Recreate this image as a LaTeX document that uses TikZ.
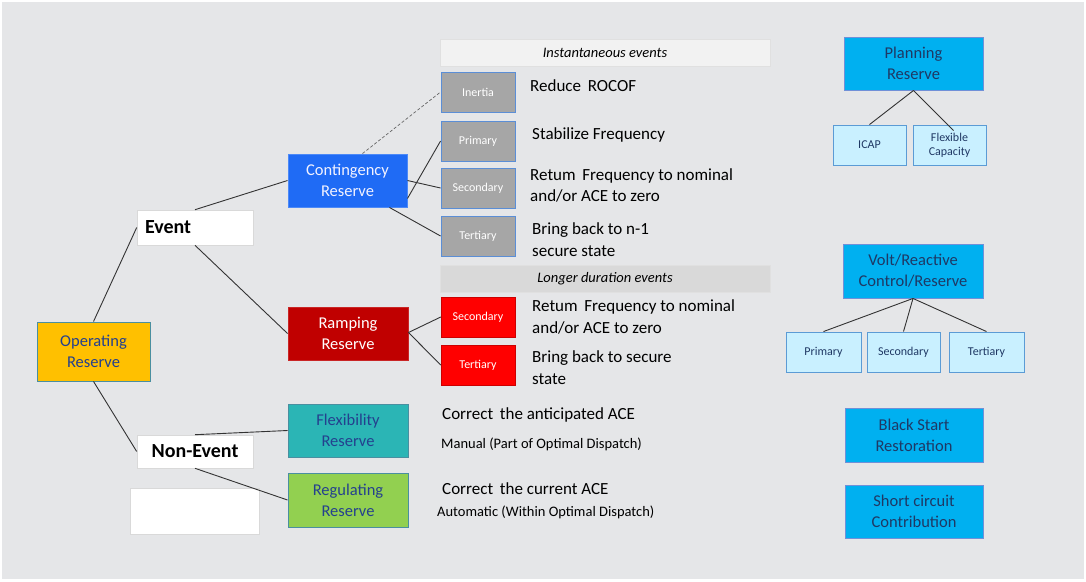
\documentclass[tikz,border=0pt]{standalone}
\usepackage{fontspec}
\setmainfont{Carlito}
\definecolor{bgc}{HTML}{E5E6E8}
\definecolor{contc}{HTML}{1F6BF5}
\definecolor{rampc}{HTML}{C00000}
\definecolor{flexc}{HTML}{2BB5B5}
\definecolor{regc}{HTML}{92D050}
\definecolor{operc}{HTML}{FFC000}
\definecolor{operb}{HTML}{4A8FA0}
\definecolor{greyc}{HTML}{A6A6A6}
\definecolor{bluebd}{HTML}{5B8ED6}
\definecolor{redc}{HTML}{FF0000}
\definecolor{skyc}{HTML}{00B0F0}
\definecolor{skyb}{HTML}{7090D8}
\definecolor{lightc}{HTML}{C9F0FF}
\definecolor{lightb}{HTML}{5B9BD5}
\definecolor{navy}{HTML}{1F3864}
\definecolor{dblue}{HTML}{24408E}
\definecolor{linec}{HTML}{333333}
\tikzset{
  bx/.style={draw, line width=0.9pt, inner sep=2pt, align=center, font=\fontsize{16.5}{21}\selectfont},
  main/.style={bx, minimum width=120pt, minimum height=53pt},
  small/.style={bx, minimum width=74pt, minimum height=40pt, font=\fontsize{12}{14}\selectfont},
  greybox/.style={small, fill=greyc, draw=bluebd, text=white},
  redbox/.style={small, fill=redc, draw=red!80!black, line width=0.5pt, text=white},
  lightbox/.style={small, fill=lightc, draw=lightb, text=navy, minimum width=74pt},
  skybox/.style={main, fill=skyc, draw=skyb, text=navy, minimum width=139pt},
  whitebox/.style={draw=black!15, fill=white, line width=0.6pt, minimum width=116pt, minimum height=34pt, font=\fontsize{20}{22}\selectfont\bfseries},
  bar/.style={draw=black!12, line width=0.6pt, minimum width=330pt, minimum height=27pt, font=\fontsize{14.5}{16}\selectfont\itshape},
  desc/.style={anchor=west, align=left, inner sep=0pt, font=\fontsize{17}{21.5}\selectfont},
  sdesc/.style={anchor=west, align=left, inner sep=0pt, font=\fontsize{14.5}{16}\selectfont},
  conn/.style={draw=linec, line width=0.9pt},
}
\begin{document}
\begin{tikzpicture}[x=1pt,y=-1pt]
\useasboundingbox (0,0) rectangle (1086,581);
\fill[white] (0,0) rectangle (1086,581);
\fill[bgc] (2,2) rectangle (1084,579);

% bars
\node[bar, fill=black!5] (inst) at (605,53) {Instantaneous events};
\node[bar, fill=black!15] (longd) at (605,278.5) {Longer duration events};

% grey boxes
\node[greybox] (inertia) at (478,92) {Inertia};
\node[greybox] (gprim) at (478,141) {Primary};
\node[greybox] (gsec) at (478,188) {Secondary};
\node[greybox] (gter) at (478,236) {Tertiary};
\node[redbox] (rsec) at (478,317) {Secondary};
\node[redbox] (rter) at (478,365) {Tertiary};

% main boxes
\node[main, fill=contc, draw=contc!80!white, text=blue!5, minimum width=119pt] (cont) at (347.5,180.5) {Contingency\\Reserve};
\node[main, fill=rampc, draw=rampc!85!white, text=white] (ramp) at (348,333.5) {Ramping\\Reserve};
\node[main, fill=flexc, draw=operb, text=dblue] (flex) at (348,430.5) {Flexibility\\Reserve};
\node[main, fill=regc, draw=operb, text=dblue, minimum height=54pt] (reg) at (348,500) {Regulating\\Reserve};
\node[main, fill=operc, draw=operb, text=dblue, minimum width=113pt, minimum height=59pt] (oper) at (93.5,351.5) {Operating\\Reserve};

\node[whitebox, text width=100pt, align=left, inner xsep=8pt, minimum height=35pt] (event) at (195,227.5) {Event};
\node[whitebox, minimum height=33pt] (nonevent) at (195,451.5) {Non-Event};
\node[draw=black!15, fill=white, line width=0.6pt, minimum width=129pt, minimum height=46pt] (blank) at (194.5,511) {};

% descriptions
\node[desc] (d1) at (530,86) {Reduce\, ROCOF};
\node[desc] (d2) at (532,135) {Stabilize Frequency};
\node[desc] (d3) at (530,185.5) {Retum\, Frequency to nominal\\and/or ACE to zero};
\node[desc] (d4) at (532,239.5) {Bring back to n-1\\secure state};
\node[desc] (d5) at (532,317) {Retum\, Frequency to nominal\\and/or ACE to zero};
\node[desc] (d6) at (532,367.5) {Bring back to secure\\state};
\node[desc] (d7) at (442,415) {Correct\, the anticipated ACE};
\node[sdesc] (d8) at (441,444) {Manual (Part of Optimal Dispatch)};
\node[desc] (d9) at (442,489) {Correct\, the current ACE};
\node[sdesc] (d10) at (437,512) {Automatic (Within Optimal Dispatch)};

% right side
\node[skybox] (plan) at (913.5,63.5) {Planning\\Reserve};
\node[lightbox, minimum width=73pt] (icap) at (869.5,145) {ICAP};
\node[lightbox, minimum width=73pt] (flexcap) at (949.5,145) {Flexible\\Capacity};
\node[skybox, minimum width=140pt, minimum height=54pt] (volt) at (913,271) {Volt/Reactive\\Control/Reserve};
\node[lightbox, minimum width=75pt] (vprim) at (823.5,352) {Primary};
\node[lightbox, minimum width=73pt] (vsec) at (903.5,352) {Secondary};
\node[lightbox, minimum width=75pt] (vter) at (986.5,352) {Tertiary};
\node[skybox, minimum width=138pt, minimum height=54pt] (black) at (914,435) {Black Start\\Restoration};
\node[skybox, minimum width=138pt] (short) at (914,511.5) {Short circuit\\Contribution};

% connectors
\draw[conn] (oper.north) -- (event.west);
\draw[conn] (oper.south) -- (nonevent.west);
\draw[conn] (event.north) -- (cont.west);
\draw[conn] (event.south) -- (ramp.west);
\draw[conn] (nonevent.north) -- (flex.west);
\draw[conn] (nonevent.south) -- (reg.west);
\draw[draw=black!60, line width=0.7pt, dashed, dash pattern=on 3pt off 2pt] ([xshift=15pt]cont.north) -- (inertia.west);
\draw[conn] ([yshift=-18pt]cont.east) -- (gprim.west);
\draw[conn] (cont.east) -- (gsec.west);
\draw[conn] ([xshift=-18pt]cont.south east) -- (gter.west);
\draw[conn] ([yshift=1pt]ramp.east) -- (rsec.west);
\draw[conn] ([yshift=1pt]ramp.east) -- (rter.west);
\draw[conn] (plan.south) -- (icap.north);
\draw[conn] (plan.south) -- ([xshift=4pt,yshift=-6pt]flexcap.north);
\draw[conn] (volt.south) -- (vprim.north);
\draw[conn] (volt.south) -- (vsec.north);
\draw[conn] (volt.south) -- (vter.north);
\end{tikzpicture}
\end{document}
